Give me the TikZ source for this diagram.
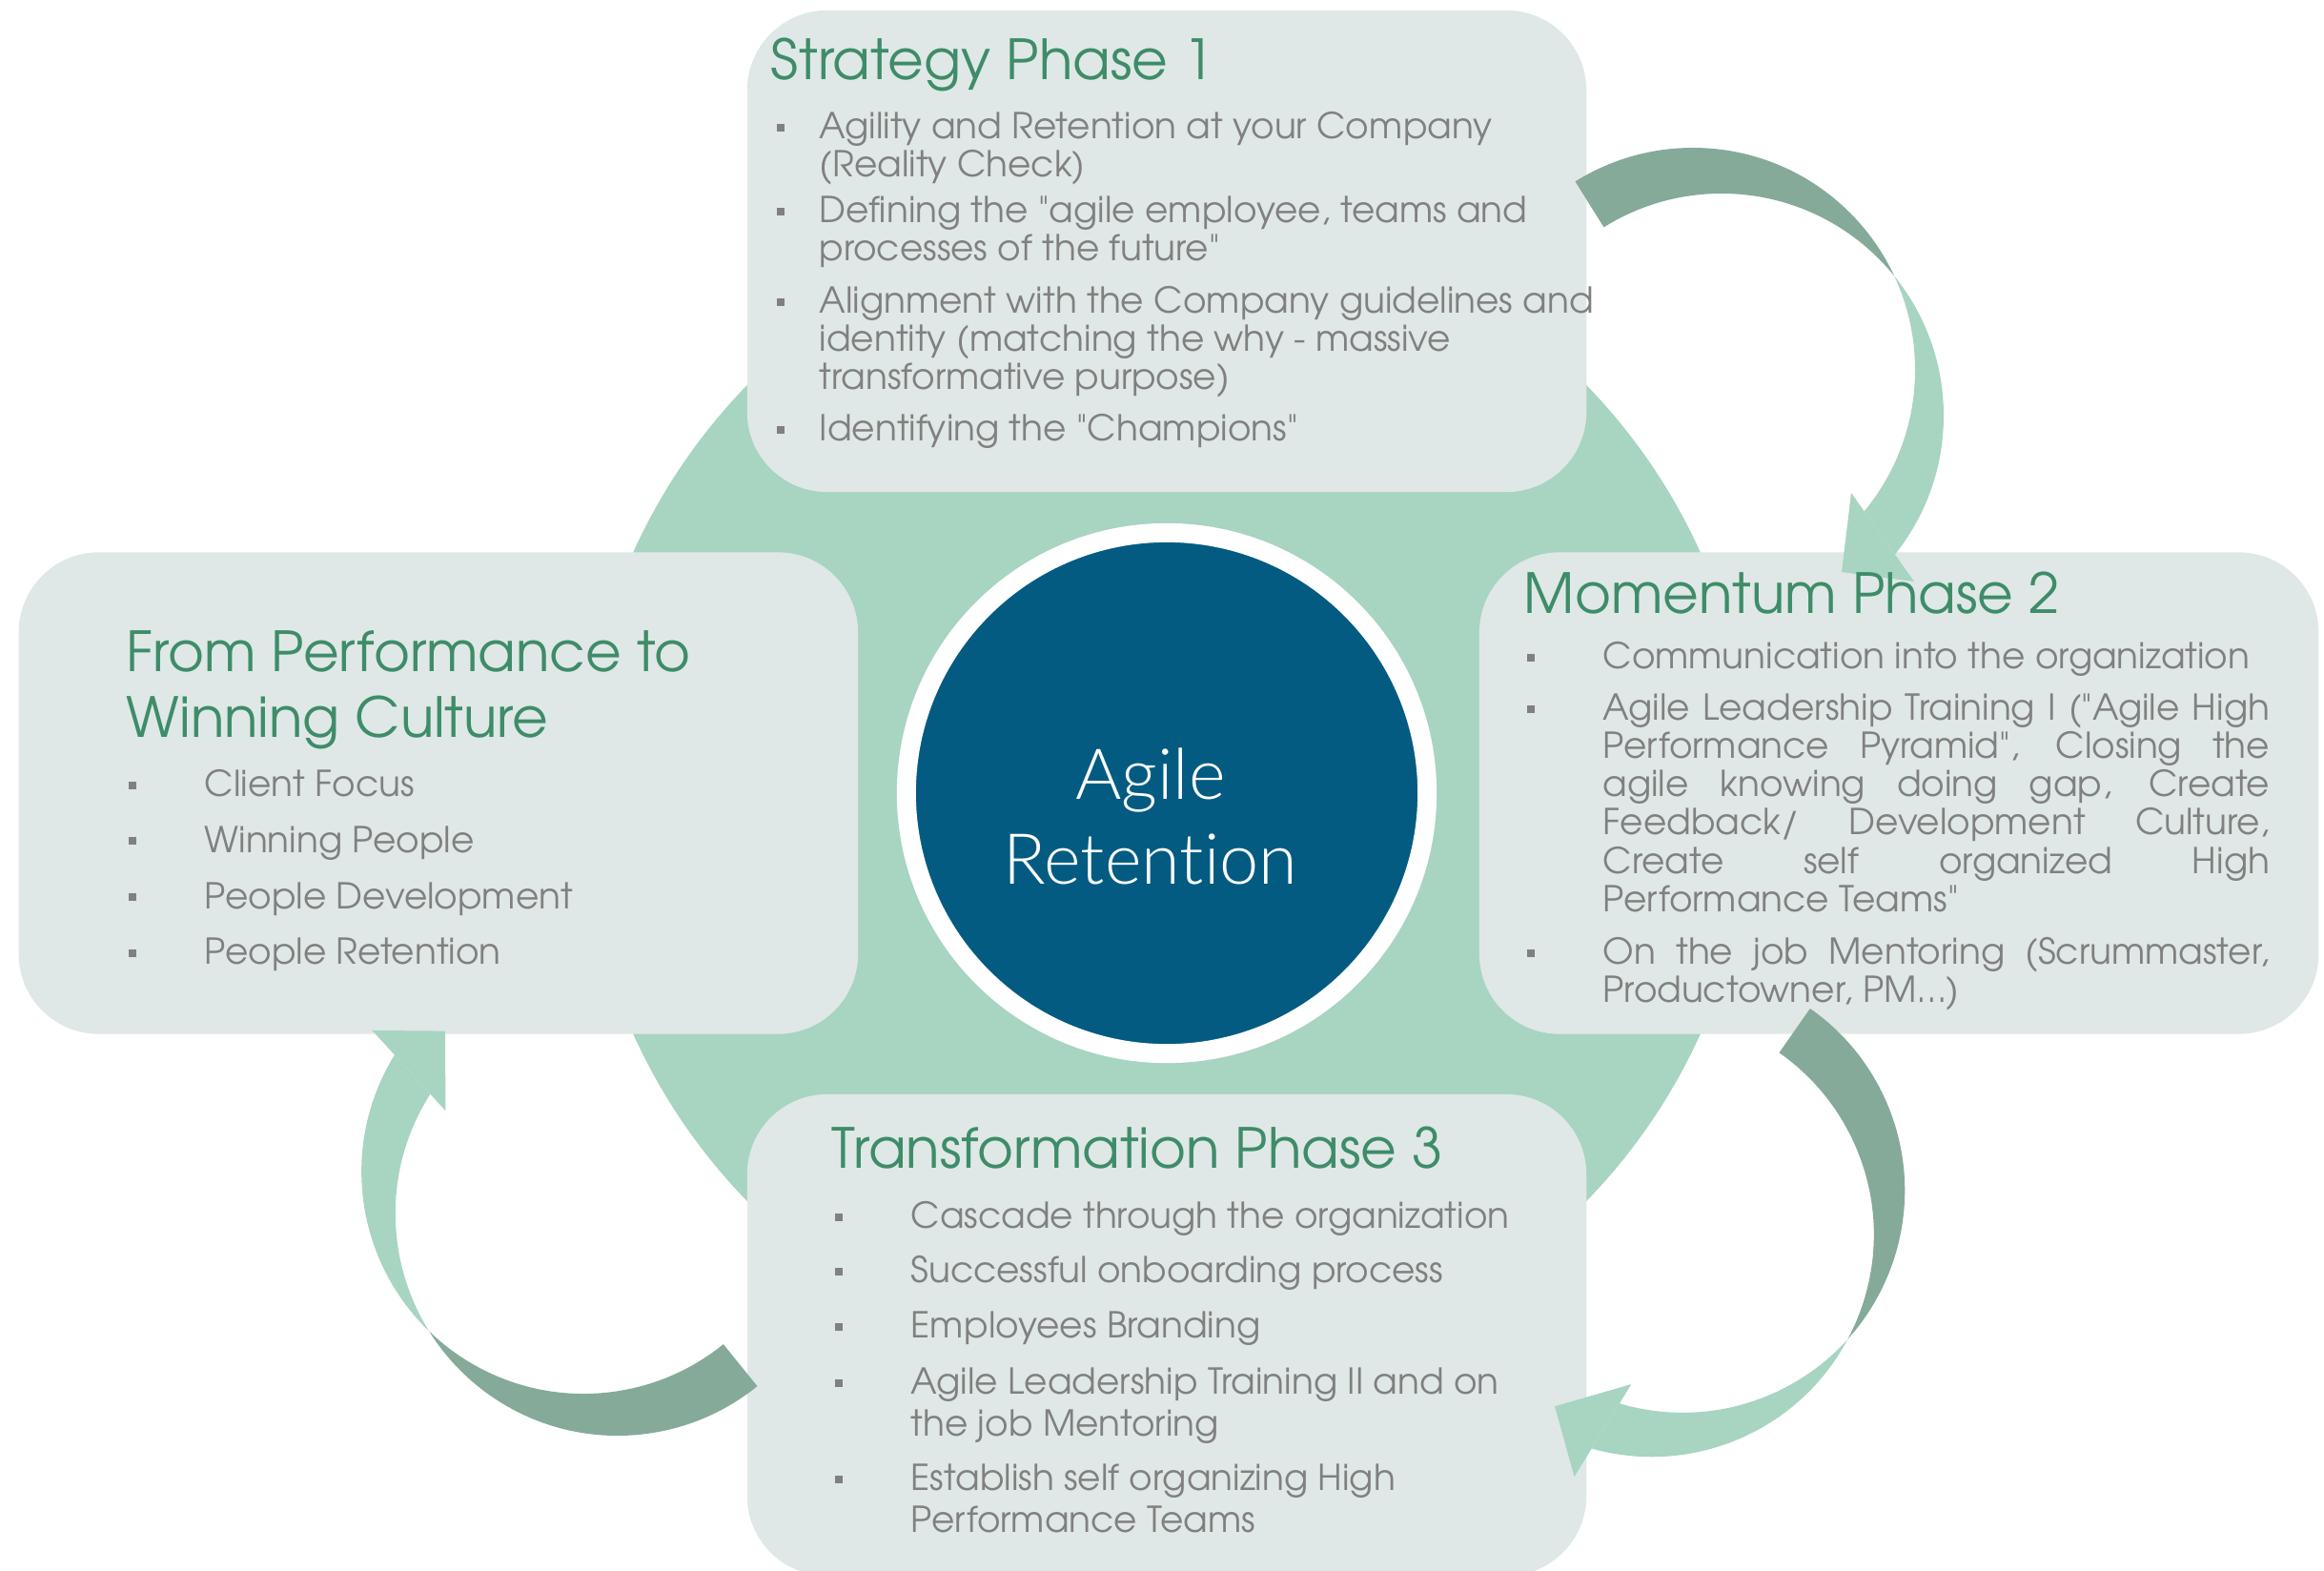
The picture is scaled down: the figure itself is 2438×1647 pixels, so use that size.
\documentclass[tikz,border=0pt]{standalone}
\usepackage{fontspec}
\usetikzlibrary{positioning}
\newfontfamily\gothic{TeX Gyre Adventor}
\newfontfamily\helv{Lato}[UprightFont=* Light, Ligatures=NoCommon]
\definecolor{panelgrey}{RGB}{223,232,230}
\definecolor{ringgreen}{RGB}{168,212,194}
\definecolor{arrowdark}{RGB}{133,170,153}
\definecolor{headgreen}{RGB}{62,140,105}
\definecolor{bodygrey}{RGB}{128,128,128}
\definecolor{coreblue}{RGB}{3,91,130}
\newcommand{\bodyfont}{\gothic\fontsize{10.65pt}{11.4pt}\selectfont}
\newcommand{\headfont}{\gothic\fontsize{16.5pt}{19.6pt}\selectfont}
% bullet square hanging left of the first line
\newcommand{\bul}[1][20.3pt]{\noindent\rule{0pt}{10pt}\llap{\rule[2.3pt]{2.3pt}{2.3pt}\hspace{#1}}}
\newcommand{\hs}{\noindent\rule{0pt}{14pt}}
\tikzset{
  panel/.style={fill=panelgrey, rounded corners=0.84cm, minimum width=8.8cm, minimum height=5.05cm, inner sep=0pt},
  head/.style={anchor=north west, inner sep=0pt, yshift=14pt, text=headgreen, font=\headfont, align=left},
  item/.style={anchor=north west, inner sep=0pt, yshift=10pt, text=bodygrey, font=\bodyfont, align=left},
}
\begin{document}
\begin{tikzpicture}[x=0.01cm, y=0.01cm]
\useasboundingbox (0,0) rectangle (2438,-1647);
% backdrop disc and core
\fill[ringgreen] (1224,-832) circle[radius=614];
\node[circle, fill=coreblue, draw=white, line width=0.2cm, minimum size=5.46cm, inner sep=0pt] (core) at (1224,-832) {};
% panels
\node[panel, above=0.32cm of core] (strat) {};
\node[panel, right=0.44cm of core] (mom) {};
\node[panel, below=0.32cm of core] (trans) {};
\node[panel, left=0.40cm of core] (cult) {};
% twisted arrows
\foreach \mx/\my/\rot in {1791/-412/0, 1749/-1272/-67, 630/-1251/-173}{
  \begin{scope}[shift={(\mx,\my)}, rotate=\rot]
    \begin{scope}
      \clip (0,0) -- (122:400) -- (32:400) -- cycle;
      \fill[arrowdark, even odd rule] (-15,24) circle[radius=233] (15,-24) circle[radius=233];
    \end{scope}
    \begin{scope}
      \clip (53,33) -- (339,212) -- (283,-291) -- cycle;
      \fill[ringgreen, even odd rule] (-15,24) circle[radius=233] (15,-24) circle[radius=233];
    \end{scope}
    \fill[ringgreen] (151,-105) -- (217,-198) -- (141,-188) -- cycle;
  \end{scope}
}
% centre label
\node[text=white, font=\helv\fontsize{21pt}{25.3pt}\selectfont, align=center] (corelbl) at (1207,-856) {Agile\\Retent\kern0pt ion};
% strategy
\node[head] (strath) at (808,-83) {\hs Strategy Phase 1};
\node[item] (s1) at (859,-145) {\bul[10.5pt]Agility and Retention at your Company\\(Reality Check)};
\node[item] (s2) at (859,-233) {\bul[10.5pt]Defining the "agile employee, teams and\\processes of the future"};
\node[item] (s3) at (859,-328) {\bul[10.5pt]Alignment with the Company guidelines and\\identity (matching the why - massive\\transformative purpose)};
\node[item] (s4) at (859,-462) {\bul[10.5pt]Identifying the "Champions"};
% momentum
\node[head] (momh) at (1598,-643) {\hs Momentum Phase 2};
\node[item] (m1) at (1681,-701) {\bul Communication into the organization};
\node[item, text width=6.99cm, align=justify] (m2) at (1681,-755) {\bul Agile Leadership Training I ("Agile High\linebreak Performance Pyramid", Closing the\linebreak agile knowing doing gap, Create\linebreak Feedback/ Development Culture,\linebreak Create self organized High\linebreak Performance Teams"};
\node[item, text width=6.99cm, align=justify] (m3) at (1681,-1011) {\bul On the job Mentoring (Scrummaster,\linebreak Productowner, PM…)};
% culture
\node[head] (culth) at (132,-704) {\hs From Performance to\\Winning Culture};
\foreach \txt [count=\i] in {Client Focus, Winning People, People Development, People Retention}
  \node[item] (c\i) at (214,{-835-58.7*(\i-1)}) {\bul \txt};
% transformation
\node[head] (transh) at (872,-1225) {\hs Transformation Phase 3};
\node[item] (t1) at (955,-1288) {\bul Cascade through the organization};
\node[item] (t2) at (955,-1345) {\bul Successful onboarding process};
\node[item] (t3) at (955,-1403) {\bul Employees Branding};
\node[item] (t4) at (955,-1462) {\bul Agile Leadership Training II and on\\[1pt]the job Mentoring};
\node[item] (t5) at (955,-1563) {\bul Establish self organizing High\\[1pt]Performance Teams};
\end{tikzpicture}
\end{document}
